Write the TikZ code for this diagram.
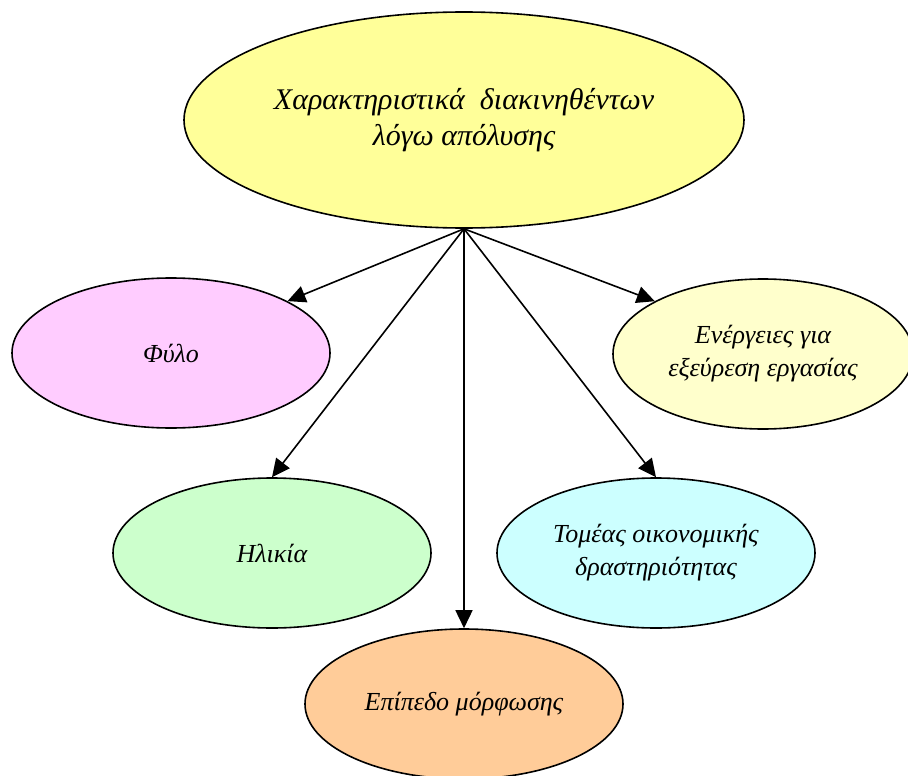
\documentclass[tikz,border=0pt]{standalone}
\usepackage{fontspec}
\setmainfont{Liberation Serif}
\usetikzlibrary{shapes.geometric,arrows.meta}
\definecolor{cTop}{HTML}{FFFF99}
\definecolor{cFylo}{HTML}{FFCCFF}
\definecolor{cEnerg}{HTML}{FFFFCC}
\definecolor{cIlik}{HTML}{CCFFCC}
\definecolor{cTomeas}{HTML}{CCFFFF}
\definecolor{cEpip}{HTML}{FFCC99}
\begin{document}
\begin{tikzpicture}[x=1pt,y=-1pt,
  oval/.style={ellipse, draw=black, line width=1.6pt, inner sep=0pt, align=center,
    minimum width=318pt, minimum height=150pt, font=\fontsize{26}{33}\selectfont\itshape},
  conn/.style={line width=1.6pt, -{Triangle[length=18pt,width=17pt]}}]
\useasboundingbox (0,0) rectangle (908,776);
\node[oval, fill=cTop, minimum width=560pt, minimum height=216pt,
  font=\fontsize{30}{36}\selectfont\itshape] (top) at (464,120)
  {Χαρακτηριστικά\ \ διακινηθέντων\\λόγω απόλυσης};
\node[oval, fill=cFylo] (fylo) at (171,353) {Φύλο};
\node[oval, fill=cEnerg, minimum width=300pt] (energ) at (763,354) {Ενέργειες για\\εξεύρεση εργασίας};
\node[oval, fill=cIlik] (ilik) at (272,553) {Ηλικία};
\node[oval, fill=cTomeas] (tomeas) at (656,553) {Τομέας οικονομικής\\δραστηριότητας};
\node[oval, fill=cEpip] (epip) at (464,704) {Επίπεδο μόρφωσης};
\draw[conn] (top.south) -- (fylo.24);
\draw[conn] (top.south) -- (ilik.north);
\draw[conn] (top.south) -- (epip.north);
\draw[conn] (top.south) -- (tomeas.north);
\draw[conn] (top.south) -- (energ.154);
\end{tikzpicture}
\end{document}
